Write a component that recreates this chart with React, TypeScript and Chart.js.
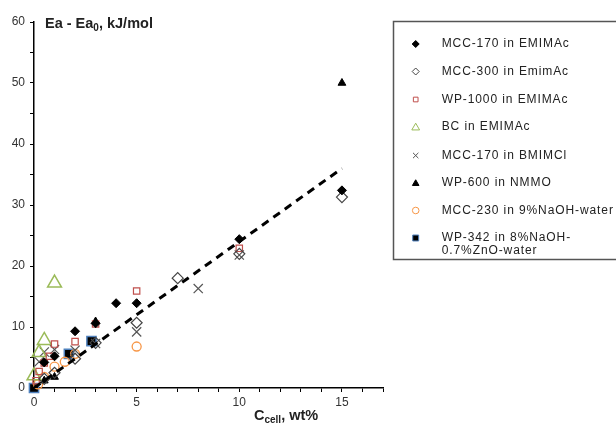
import React, { useEffect, useRef } from "react";
import { Chart, registerables } from "chart.js";

Chart.register(...registerables);

// ---- data ----
const seriesNames = [
  "MCC-170 in EMIMAc",
  "MCC-300 in EmimAc",
  "WP-1000 in EMIMAc",
  "BC in EMIMAc",
  "MCC-170 in BMIMCl",
  "WP-600 in NMMO",
  "MCC-230 in 9%NaOH-water",
  "WP-342 in 8%NaOH-\n0.7%ZnO-water",
];

const mcc170EmimX = [0.5, 1, 2, 3, 4, 5, 10, 15];
const mcc170EmimY = [4.2, 5.2, 9.3, 10.6, 13.9, 13.9, 24.4, 32.4];

const mcc300EmimX = [0.5, 1, 2, 3, 5, 7, 10, 15];
const mcc300EmimY = [1.5, 2.5, 4.8, 7.4, 10.7, 18.0, 22.0, 31.3];

const wp1000EmimX = [0.1, 0.25, 0.5, 0.75, 1, 2, 3, 5, 10];
const wp1000EmimY = [1.2, 2.7, 4.1, 5.2, 7.2, 7.6, 10.5, 15.9, 22.9];

const bcEmimX = [0, 0.25, 0.5, 1];
const bcEmimY = [2.0, 5.8, 7.8, 17.2];

const mcc170BmimX = [0.25, 0.5, 1, 2, 3, 5, 8, 10];
const mcc170BmimY = [4.3, 5.9, 6.3, 6.2, 7.3, 9.2, 16.3, 21.8];

const wp600NmmoX = [0.5, 1, 3, 15];
const wp600NmmoY = [1.2, 1.8, 10.9, 50.0];

const mcc230NaohX = [0.2, 0.5, 1, 1.5, 2, 5];
const mcc230NaohY = [0.6, 1.8, 3.5, 4.3, 5.6, 6.8];

const wp342ZnoX = [0, 1.7, 2.8];
const wp342ZnoY = [0, 5.6, 7.7];

const fitX = [0, 15];
const fitY = [0, 36];

const xTicksLabelled = [0, 5, 10, 15];
const yTicksLabelled = [0, 10, 20, 30, 40, 50, 60];

const toPts = (xs: number[], ys: number[]) => xs.map((x, i) => ({ x, y: ys[i] }));

// marker styles per series
const styles = [
  { pointStyle: "rectRot", radius: 4.5, bg: "#000", border: "#000", bw: 1 },
  { pointStyle: "rectRot", radius: 5.5, bg: "rgba(0,0,0,0)", border: "#444", bw: 1.2 },
  { pointStyle: "rect", radius: 4.5, bg: "rgba(0,0,0,0)", border: "#c0504d", bw: 1.2 },
  { pointStyle: "triangle", radius: 8, bg: "rgba(0,0,0,0)", border: "#9bbb59", bw: 1.5 },
  { pointStyle: "crossRot", radius: 6.5, bg: "rgba(0,0,0,0)", border: "#555", bw: 1.2 },
  { pointStyle: "triangle", radius: 4.5, bg: "#000", border: "#000", bw: 1 },
  { pointStyle: "circle", radius: 4.5, bg: "rgba(0,0,0,0)", border: "#f79646", bw: 1.3 },
  { pointStyle: "rect", radius: 6.5, bg: "#000", border: "#4f81bd", bw: 1.5 },
];

const seriesData = [
  toPts(mcc170EmimX, mcc170EmimY),
  toPts(mcc300EmimX, mcc300EmimY),
  toPts(wp1000EmimX, wp1000EmimY),
  toPts(bcEmimX, bcEmimY),
  toPts(mcc170BmimX, mcc170BmimY),
  toPts(wp600NmmoX, wp600NmmoY),
  toPts(mcc230NaohX, mcc230NaohY),
  toPts(wp342ZnoX, wp342ZnoY),
];

function drawMarker(ctx: CanvasRenderingContext2D, kind: string, x: number, y: number, r: number, bg: string, border: string, bw: number) {
  ctx.save();
  ctx.beginPath();
  ctx.lineWidth = bw;
  ctx.strokeStyle = border;
  ctx.fillStyle = bg;
  if (kind === "rectRot") {
    ctx.moveTo(x, y - r);
    ctx.lineTo(x + r, y);
    ctx.lineTo(x, y + r);
    ctx.lineTo(x - r, y);
    ctx.closePath();
    ctx.fill();
    ctx.stroke();
  } else if (kind === "rect") {
    const s = r * Math.SQRT1_2;
    ctx.rect(x - s, y - s, 2 * s, 2 * s);
    ctx.fill();
    ctx.stroke();
  } else if (kind === "triangle") {
    for (let k = 0; k < 3; k++) {
      const a = (k * 2 * Math.PI) / 3;
      const px = x + Math.sin(a) * r;
      const py = y - Math.cos(a) * r + r * 0.15;
      if (k === 0) ctx.moveTo(px, py);
      else ctx.lineTo(px, py);
    }
    ctx.closePath();
    ctx.fill();
    ctx.stroke();
  } else if (kind === "crossRot") {
    const o = r * Math.SQRT1_2;
    ctx.moveTo(x - o, y - o);
    ctx.lineTo(x + o, y + o);
    ctx.moveTo(x + o, y - o);
    ctx.lineTo(x - o, y + o);
    ctx.stroke();
  } else if (kind === "circle") {
    ctx.arc(x, y, r, 0, Math.PI * 2);
    ctx.fill();
    ctx.stroke();
  }
  ctx.restore();
}

const decorPlugin = {
  id: "decor",
  afterDraw(chart: any) {
    const ctx: CanvasRenderingContext2D = chart.ctx;
    ctx.save();
    // Y title
    ctx.fillStyle = "#222";
    ctx.textBaseline = "alphabetic";
    ctx.textAlign = "left";
    const big = "bold 14.5px 'Liberation Sans', Arial, sans-serif";
    const small = "bold 10px 'Liberation Sans', Arial, sans-serif";
    let x = 45;
    const yb = 28;
    ctx.font = big;
    ctx.fillText("Ea - Ea", x, yb);
    x += ctx.measureText("Ea - Ea").width;
    ctx.font = small;
    ctx.fillText("0", x, yb + 3);
    x += ctx.measureText("0").width;
    ctx.font = big;
    ctx.fillText(", kJ/mol", x, yb);

    // X title
    let xx = 254;
    const xb = 420;
    ctx.font = "bold 14.5px 'Liberation Sans', Arial, sans-serif";
    ctx.fillText("C", xx, xb);
    xx += ctx.measureText("C").width;
    ctx.font = "bold 10px 'Liberation Sans', Arial, sans-serif";
    ctx.fillText("cell", xx, xb + 3);
    xx += ctx.measureText("cell").width;
    ctx.font = "bold 14.5px 'Liberation Sans', Arial, sans-serif";
    ctx.fillText(", wt%", xx, xb);

    // Legend
    ctx.strokeStyle = "#555";
    ctx.lineWidth = 1.5;
    ctx.strokeRect(393.5, 21.5, 240, 238);
    const ys = [44, 71.5, 99.5, 127, 155.5, 183, 210.5, 238];
    ctx.font = "12px 'Liberation Sans', Arial, sans-serif";
    (ctx as any).letterSpacing = "0.9px";
    ctx.textBaseline = "middle";
    ctx.fillStyle = "#222";
    const legendSizes = [3.5, 3.5, 3.3, 4.5, 3.8, 3.8, 3.3, 4.2];
    seriesNames.forEach((name, i) => {
      const s = styles[i];
      drawMarker(ctx, s.pointStyle, 415.7, ys[i], legendSizes[i], s.bg, s.border, 1);
      const lines = name.split("\n");
      lines.forEach((ln, j) => {
        ctx.fillText(ln, 441.7, ys[i] + j * 13);
      });
    });
    ctx.restore();
  },
};

export default function App() {
  const ref = useRef<HTMLCanvasElement>(null);
  useEffect(() => {
    if (!ref.current) return;
    const datasets: any[] = seriesData.map((d, i) => ({
      label: seriesNames[i],
      data: d,
      pointStyle: styles[i].pointStyle,
      pointRadius: styles[i].radius,
      pointBackgroundColor: styles[i].bg,
      pointBorderColor: styles[i].border,
      pointBorderWidth: styles[i].bw,
      showLine: false,
      clip: false,
      order: 1,
    }));
    datasets.push({
      type: "line",
      label: "fit",
      data: toPts(fitX, fitY),
      borderColor: "#000",
      borderWidth: 3,
      borderDash: [8, 6],
      pointRadius: 0,
      fill: false,
      order: 0,
    });
    const tickFont = { family: "'Liberation Sans', Arial, sans-serif", size: 12 };
    const chart = new Chart(ref.current, {
      type: "scatter",
      data: { datasets },
      plugins: [decorPlugin],
      options: {
        animation: false,
        responsive: false,
        maintainAspectRatio: false,
        layout: { padding: { left: 0, top: 22, right: 233, bottom: 0 } },
        plugins: { legend: { display: false }, tooltip: { enabled: false } },
        scales: {
          x: {
            type: "linear",
            min: 0,
            max: 17,
            afterFit: (s: any) => {
              s.height = 35;
            },
            ticks: {
              stepSize: 1,
              autoSkip: false,
              maxRotation: 0,
              padding: 3,
              color: "#333",
              font: tickFont,
              callback: (v: any) => (xTicksLabelled.includes(Number(v)) ? String(v) : ""),
            },
            grid: { display: true, drawOnChartArea: false, drawTicks: true, tickLength: 4, color: "#000", lineWidth: 1 },
            border: { display: true, color: "#000", width: 1.5 },
          },
          y: {
            type: "linear",
            min: 0,
            max: 60,
            afterFit: (s: any) => {
              s.width = 34;
            },
            ticks: {
              stepSize: 5,
              autoSkip: false,
              padding: 5,
              color: "#333",
              font: tickFont,
              callback: (v: any) => (yTicksLabelled.includes(Number(v)) ? String(v) : ""),
            },
            grid: { display: true, drawOnChartArea: false, drawTicks: true, tickLength: 4, color: "#000", lineWidth: 1 },
            border: { display: true, color: "#000", width: 1.5 },
          },
        },
      } as any,
    });
    return () => chart.destroy();
  }, []);
  return (
    <div style={{ position: "fixed", left: 0, top: 0, width: 616, height: 423, background: "#fff" }}>
      <canvas ref={ref} width={616} height={423} style={{ width: 616, height: 423, display: "block" }} />
    </div>
  );
}
